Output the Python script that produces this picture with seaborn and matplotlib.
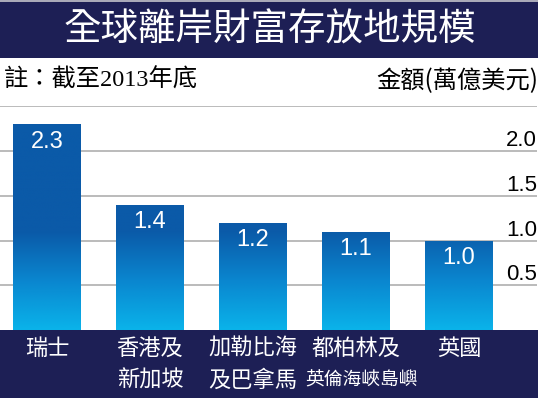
import numpy as np
import pandas as pd
import matplotlib
matplotlib.use("Agg")
import matplotlib.pyplot as plt
import matplotlib.transforms as mtransforms
from matplotlib.colors import LinearSegmentedColormap
from matplotlib.patches import Rectangle
import seaborn as sns

# ---- data ----
categories = ["瑞士", "香港及\n新加坡", "加勒比海\n及巴拿馬", "都柏林及\n英倫海峽島嶼", "英國"]
values = [2.3, 1.4, 1.2, 1.1, 1.0]
value_labels = ["2.3", "1.4", "1.2", "1.1", "1.0"]
y_ticks = [0.5, 1.0, 1.5, 2.0]
y_tick_labels = ["0.5", "1.0", "1.5", "2.0"]
title = "全球離岸財富存放地規模"
note = "註：截至2013年底"
unit = "金額(萬億美元)"

sns.set_theme(style="white")
plt.rcParams["font.family"] = ["Noto Sans CJK TC", "DejaVu Sans"]

W, H = 544, 398
fig = plt.figure(figsize=(W / 100, H / 100), dpi=100)
fig.patch.set_facecolor("white")

NAVY = "#1d1f55"
DARK = "#0b5aa8"
LIGHT = "#0ab3ea"

# plot area in pixels
x_left, x_right = 0, 537
y_base, y_top = 330, 106.3
ax = fig.add_axes([x_left / W, 1 - y_base / H, (x_right - x_left) / W, (y_base - y_top) / H])
ax.set_facecolor("none")
ax.set_zorder(2)

df = pd.DataFrame({"cat": categories, "val": values})
sns.barplot(data=df, x="cat", y="val", color=DARK, width=0.66, ax=ax,
            saturation=1, zorder=2, linewidth=0)

xlim = (-0.456, 4.757)
ylim = (0, 2.5)
ax.set_xlim(*xlim)
ax.set_ylim(*ylim)

# gridlines
for v in [0.5, 1.0, 1.5, 2.0, 2.5]:
    ax.axhline(v, color="#b5b5b5", lw=1.3, zorder=0)

# gradient fill clipped to bars
cmap = LinearSegmentedColormap.from_list("bg", [LIGHT, "#0a86cf", DARK])
n = 400
ys = np.linspace(ylim[0], ylim[1], n)
grad = np.clip(ys / 1.1, 0, 1)
img_arr = grad[:, None] * np.ones((1, 10))
for p in ax.patches:
    im = ax.imshow(img_arr, extent=[xlim[0], xlim[1], ylim[0], ylim[1]], origin="lower",
                   cmap=cmap, vmin=0, vmax=1, aspect="auto", zorder=3)
    im.set_clip_path(p)
ax.set_xlim(*xlim)
ax.set_ylim(*ylim)

# value labels
for i, (v, lab) in enumerate(zip(values, value_labels)):
    ax.annotate(lab, (i, v), xytext=(0, -12.5), textcoords="offset points",
                ha="center", va="center", color="white", fontsize=17,
                family=["Liberation Sans", "DejaVu Sans"], zorder=5)

# y tick labels on right, sitting above gridlines
trans = mtransforms.blended_transform_factory(ax.transAxes, ax.transData)
for v, lab in zip(y_ticks, y_tick_labels):
    ax.text(1.0, v, lab, transform=trans, ha="right", va="bottom", fontsize=16,
            color="black", family=["Liberation Sans", "DejaVu Sans"], zorder=5)

ax.set_xticks([])
ax.set_yticks([])
ax.set_xlabel("")
ax.set_ylabel("")
for s in ax.spines.values():
    s.set_visible(False)

# title band
fig.patches.append(Rectangle((0, 1 - 58 / H), 538 / W, 56 / H, transform=fig.transFigure,
                             facecolor=NAVY, edgecolor="none", zorder=-1))
fig.patches.append(Rectangle((0, 1 - 2 / H), 538 / W, 1.5 / H, transform=fig.transFigure,
                             facecolor="#a9a9b8", edgecolor="none", zorder=-1))
fig.text(270 / W, 1 - 30 / H, title, ha="center", va="center", color="white", fontsize=27)

# note + unit
fig.text(4 / W, 1 - 80 / H, note, ha="left", va="center", color="black", fontsize=17.5,
         family=["Liberation Serif", "Noto Sans CJK TC"])
fig.text(538 / W, 1 - 81 / H, unit, ha="right", va="center", color="black", fontsize=17.5)

# bottom band
fig.patches.append(Rectangle((0, 0), 538 / W, (H - y_base) / H, transform=fig.transFigure,
                             facecolor=NAVY, edgecolor="none", zorder=-1))
xtrans = mtransforms.blended_transform_factory(ax.transData, fig.transFigure)
for i, cat in enumerate(categories):
    lines = cat.split("\n")
    for j, line in enumerate(lines):
        ycen = 348 + 32 * j
        long_line = len(line) > 4
        fs = 13.5 if long_line else 16
        dx = 0.05 if long_line else 0
        ax.text(i + dx, 1 - ycen / H, line, transform=xtrans, ha="center", va="center",
                color="white", fontsize=fs, clip_on=False, zorder=6)

fig.savefig("out.png", dpi=100, facecolor="white")
